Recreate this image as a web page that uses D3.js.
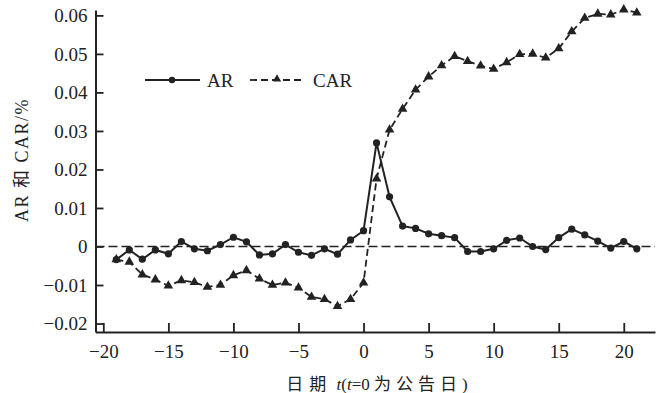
<!DOCTYPE html>
<html>
<head>
<meta charset="utf-8">
<script src="https://cdn.jsdelivr.net/npm/d3@7"></script>
<style>
  body { margin: 0; background: #fff; }
  svg text { font-family: "Liberation Serif", "Noto Sans CJK SC", serif; fill: #222; }
</style>
</head>
<body>
<div id="chart"></div>
<script>
// event window days
const days = [-19, -18, -17, -16, -15, -14, -13, -12, -11, -10, -9, -8, -7, -6, -5, -4, -3, -2, -1, 0,
  1, 2, 3, 4, 5, 6, 7, 8, 9, 10, 11, 12, 13, 14, 15, 16, 17, 18, 19, 20, 21];

const arValues = [-0.0034, -0.0009, -0.0033, -0.0009, -0.0019, 0.0013, -0.0006, -0.0011, 0.0005, 0.0024,
  0.0012, -0.0022, -0.0019, 0.0005, -0.0015, -0.0023, -0.0006, -0.0020, 0.0017, 0.0041,
  0.0269, 0.0129, 0.0053, 0.0047, 0.0033, 0.0028, 0.0023, -0.0013, -0.0013, -0.0006,
  0.0016, 0.0022, 0.0000, -0.0008, 0.0023, 0.0045, 0.0030, 0.0014, -0.0004, 0.0013, -0.0006];

const carValues = [-0.0034, -0.0040, -0.0073, -0.0086, -0.0102, -0.0088, -0.0093, -0.0105, -0.0100, -0.0075,
  -0.0062, -0.0084, -0.0100, -0.0094, -0.0107, -0.0131, -0.0137, -0.0155, -0.0137, -0.0094,
  0.0176, 0.0303, 0.0357, 0.0407, 0.0441, 0.0470, 0.0494, 0.0481, 0.0469, 0.0461,
  0.0478, 0.0499, 0.0500, 0.0490, 0.0514, 0.0558, 0.0593, 0.0604, 0.0602, 0.0615, 0.0607];

const xTicks = [-20, -15, -10, -5, 0, 5, 10, 15, 20];
const yTicks = [-0.02, -0.01, 0, 0.01, 0.02, 0.03, 0.04, 0.05, 0.06];

const width = 667, height = 393;
const margin = { top: 10, right: 12, bottom: 61, left: 95.5 };

const svg = d3.select('#chart')
  .append('svg')
  .attr('width', width)
  .attr('height', height);

const x = d3.scaleLinear()
  .domain([-20.6, 22.4])
  .range([margin.left, width - margin.right]);

const y = d3.scaleLinear()
  .domain([-0.0222, 0.0614])
  .range([height - margin.bottom, margin.top]);

const ink = '#222';

// zero reference line
svg.append('line')
  .attr('x1', x.range()[0])
  .attr('x2', x.range()[1])
  .attr('y1', y(0))
  .attr('y2', y(0))
  .attr('stroke', ink)
  .attr('stroke-width', 1.3)
  .attr('stroke-dasharray', '9,4');

// X axis
const xAxis = svg.append('g')
  .attr('transform', `translate(0,${height - margin.bottom})`)
  .call(d3.axisBottom(x)
    .tickValues(xTicks)
    .tickFormat(d3.format('d'))
    .tickSize(-9)
    .tickSizeOuter(0)
    .tickPadding(13));

// Y axis
const yAxis = svg.append('g')
  .attr('transform', `translate(${margin.left},0)`)
  .call(d3.axisLeft(y)
    .tickValues(yTicks)
    .tickFormat(d => d === 0 ? '0' : d3.format('.2f')(d))
    .tickSize(-8)
    .tickSizeOuter(0)
    .tickPadding(8));

[xAxis, yAxis].forEach(g => {
  g.select('.domain').attr('stroke', ink).attr('stroke-width', 2);
  g.selectAll('.tick line').attr('stroke', ink).attr('stroke-width', 1.8);
  g.selectAll('.tick text')
    .style('font-family', '"Liberation Serif", serif')
    .style('font-size', '19px')
    .attr('fill', ink);
});

// axis titles
svg.append('text')
  .attr('x', 377)
  .attr('y', 390)
  .attr('text-anchor', 'middle')
  .style('font-size', '17px')
  .html('<tspan letter-spacing="6">日期</tspan>&#160;<tspan font-style="italic">t</tspan>(<tspan font-style="italic">t</tspan>=0&#160;<tspan letter-spacing="5">为公告日</tspan>)');

svg.append('text')
  .attr('transform', 'rotate(-90)')
  .attr('x', -160)
  .attr('y', 28)
  .attr('text-anchor', 'middle')
  .style('font-size', '18px')
  .style('letter-spacing', '1.5px')
  .text('AR 和 CAR/%');

// lines
const lineAr = d3.line()
  .x((d, i) => x(days[i]))
  .y(d => y(d));

svg.append('path')
  .datum(carValues)
  .attr('fill', 'none')
  .attr('stroke', ink)
  .attr('stroke-width', 1.8)
  .attr('stroke-dasharray', '7,4')
  .attr('d', lineAr);

svg.append('path')
  .datum(arValues)
  .attr('fill', 'none')
  .attr('stroke', ink)
  .attr('stroke-width', 2)
  .attr('d', lineAr);

// markers
const tri = d3.symbol().type(d3.symbolTriangle).size(40);

svg.append('g')
  .selectAll('path')
  .data(carValues)
  .join('path')
  .attr('transform', (d, i) => `translate(${x(days[i])},${y(d)})`)
  .attr('d', tri)
  .attr('fill', ink);

svg.append('g')
  .selectAll('circle')
  .data(arValues)
  .join('circle')
  .attr('cx', (d, i) => x(days[i]))
  .attr('cy', d => y(d))
  .attr('r', 3.6)
  .attr('fill', ink);

// legend
const legend = svg.append('g');
legend.append('line')
  .attr('x1', 145).attr('x2', 200).attr('y1', 80).attr('y2', 80)
  .attr('stroke', ink).attr('stroke-width', 2);
legend.append('circle')
  .attr('cx', 172).attr('cy', 80).attr('r', 3.2).attr('fill', ink);
legend.append('text')
  .attr('x', 207).attr('y', 87)
  .style('font-size', '19px')
  .text('AR');

legend.append('line')
  .attr('x1', 250).attr('x2', 305).attr('y1', 80).attr('y2', 80)
  .attr('stroke', ink).attr('stroke-width', 1.8)
  .attr('stroke-dasharray', '7,4');
legend.append('path')
  .attr('transform', 'translate(277,79)')
  .attr('d', d3.symbol().type(d3.symbolTriangle).size(30))
  .attr('fill', ink);
legend.append('text')
  .attr('x', 313).attr('y', 87)
  .style('font-size', '19px')
  .text('CAR');
</script>
</body>
</html>
